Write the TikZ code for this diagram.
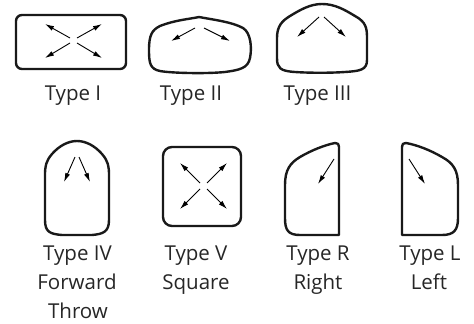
\documentclass[tikz,border=0pt]{standalone}
\usepackage{fontspec}
\setmainfont{Open Sans}
\usetikzlibrary{arrows.meta}
\begin{document}
\begin{tikzpicture}[x=1pt,y=-1pt,
  outline/.style={line width=2.4pt,line join=round,black!90},
  throw/.style={line width=0.9pt,-{Latex[length=9pt,width=5pt]}},
  lbl/.style={anchor=base,inner sep=0pt,font=\fontsize{20.5}{24}\selectfont,text=black!85}]
\useasboundingbox (0,0) rectangle (474,324);
% Type I
\draw[outline,rounded corners=6pt] (16,15) rectangle (126,69);
\draw[throw] (70,38) -- (45,24);
\draw[throw] (77,38) -- (102,24);
\draw[throw] (70,43) -- (45,58);
\draw[throw] (77,43) -- (102,58);
\node[lbl] (t1) at (73,100) {Type I};
% Type II
\draw[outline] (199,17) .. controls (215,20) and (232,22) .. (243,28)
  .. controls (251,33) and (252,48) .. (250,58)
  .. controls (248,68) and (240,70) .. (225,72)
  .. controls (205,74) and (170,73) .. (160,71)
  .. controls (150,69) and (149,63) .. (149,50)
  .. controls (149,35) and (152,30) .. (160,26)
  .. controls (175,20) and (190,19) .. (199,17) -- cycle;
\draw[throw] (195,28) -- (171,41);
\draw[throw] (204,28) -- (230,41);
\node[lbl] (t2) at (191,100) {Type II};
% Type III
\draw[outline] (322,4) .. controls (335,4) and (345,10) .. (355,16)
  .. controls (366,22) and (367,28) .. (367,38) -- (367,60)
  .. controls (367,70) and (360,71) .. (345,72)
  .. controls (330,73) and (310,73) .. (295,72)
  .. controls (280,71) and (277,68) .. (277,58) -- (277,38)
  .. controls (277,26) and (282,21) .. (290,16)
  .. controls (300,10) and (310,4) .. (322,4) -- cycle;
\draw[throw] (319,17) -- (297,37);
\draw[throw] (324,17) -- (346,37);
\node[lbl] (t3) at (317.5,100) {Type III};
% Type IV
\draw[outline] (77,141) .. controls (86,141) and (95,146) .. (102,154)
  .. controls (108,161) and (109,166) .. (109,175) -- (109,220)
  .. controls (109,232) and (103,234) .. (92,235) -- (62,235)
  .. controls (50,234) and (45,232) .. (45,220) -- (45,175)
  .. controls (45,166) and (46,161) .. (52,154)
  .. controls (59,146) and (68,141) .. (77,141) -- cycle;
\draw[throw] (75,157) -- (64,182);
\draw[throw] (79,157) -- (90,182);
\node[lbl] (t4a) at (77.5,260) {Type IV};
\node[lbl] (t4b) at (77,289) {Forward};
\node[lbl] (t4c) at (78,318) {Throw};
% Type V
\draw[outline,rounded corners=9pt] (163,147) rectangle (241,226);
\draw[throw] (200,183) -- (180,163);
\draw[throw] (207,183) -- (227,163);
\draw[throw] (200,189) -- (180,209);
\draw[throw] (207,189) -- (227,209);
\node[lbl] (t5a) at (196,260) {Type V};
\node[lbl] (t5b) at (196,289) {Square};
% Type R
\draw[outline] (339,147) -- (339,235) -- (300,235)
  .. controls (288,235) and (285,230) .. (285,218) -- (285,185)
  .. controls (285,170) and (290,163) .. (300,157)
  .. controls (312,150) and (325,145) .. (335,143)
  .. controls (338,143) and (339,144) .. (339,147) -- cycle;
\draw[throw] (334,159) -- (318,184);
\node[lbl] (tra) at (318,260) {Type R};
\node[lbl] (trb) at (318,289) {Right};
% Type L
\draw[outline] (402,147) -- (402,235) -- (442,235)
  .. controls (454,235) and (458,230) .. (458,218) -- (458,185)
  .. controls (458,170) and (453,163) .. (442,157)
  .. controls (430,150) and (417,145) .. (406,143)
  .. controls (403,143) and (402,144) .. (402,147) -- cycle;
\draw[throw] (409,159) -- (425,184);
\node[lbl] (tla) at (430,260) {Type L};
\node[lbl] (tlb) at (429,289) {Left};
\end{tikzpicture}
\end{document}
